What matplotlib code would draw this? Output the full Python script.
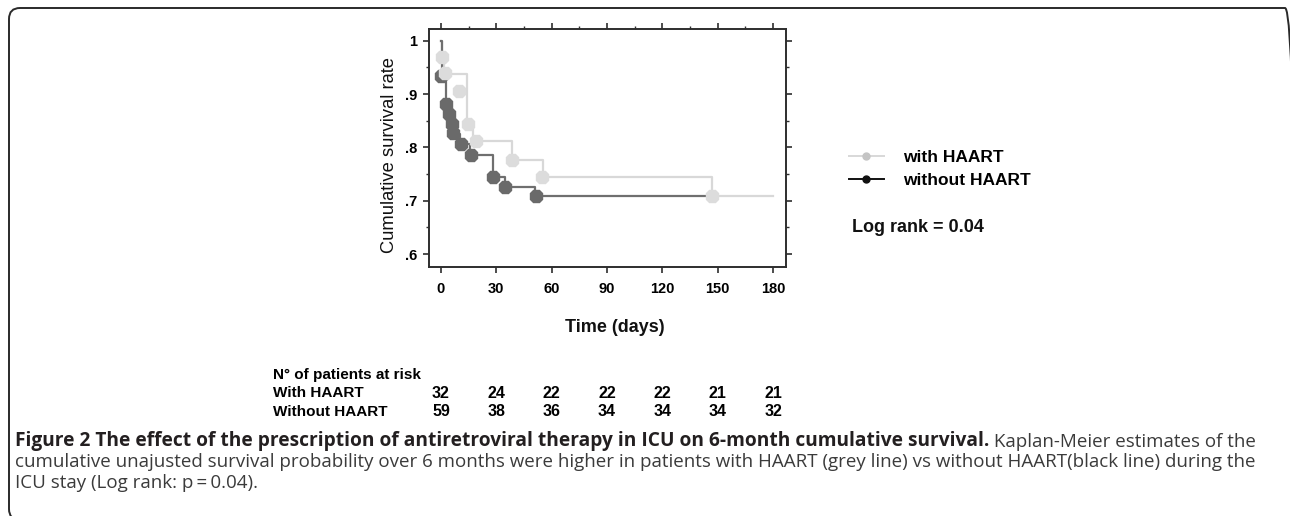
import matplotlib
matplotlib.use("Agg")
import matplotlib.pyplot as plt
from matplotlib import font_manager as fm
from matplotlib.lines import Line2D
from matplotlib.patches import FancyBboxPatch
from matplotlib.transforms import IdentityTransform, blended_transform_factory
from matplotlib.ticker import FixedLocator, MultipleLocator, FuncFormatter

# ---------------- data ----------------
# step curves (time in days, cumulative survival after each drop)
with_times = [0, 0.4, 1.5, 13.9, 17.5, 38.7, 55.5, 147, 180]
with_surv = [1.0, 0.969, 0.938, 0.844, 0.811, 0.776, 0.744, 0.709, 0.709]
without_times = [0, 0.8, 2.5, 4.5, 6.0, 6.7, 10.3, 15.5, 28.4, 34.7, 51.0, 147]
without_surv = [1.0, 0.934, 0.881, 0.862, 0.844, 0.825, 0.806, 0.786, 0.745, 0.726, 0.709, 0.709]
# plotted symbols
with_mark_t = [0.4, 2.2, 9.7, 14.8, 18.8, 38.3, 54.9, 147]
with_mark_s = [0.970, 0.939, 0.906, 0.843, 0.811, 0.776, 0.744, 0.709]
without_mark_t = [0.0, 2.7, 4.5, 5.8, 6.5, 10.6, 16.4, 28.3, 34.7, 51.5]
without_mark_s = [0.934, 0.881, 0.862, 0.844, 0.826, 0.806, 0.786, 0.745, 0.726, 0.709]

x_ticks = [0, 30, 60, 90, 120, 150, 180]
y_ticks = [0.6, 0.7, 0.8, 0.9, 1.0]
risk_times = [0, 30, 60, 90, 120, 150, 180]
risk_with = [32, 24, 22, 22, 22, 21, 21]
risk_without = [59, 38, 36, 34, 34, 34, 32]
series_labels = ["with HAART", "without HAART"]
risk_labels = ["With HAART", "Without HAART"]

CHART_FONT = "Liberation Sans"
plt.rcParams["font.family"] = ["Liberation Sans", "DejaVu Sans"]

W, H = 1290, 516
fig = plt.figure(figsize=(W / 100, H / 100), dpi=100)
fig.patch.set_facecolor("white")

# outer frame
frame = FancyBboxPatch((9, -4), 1287, 512, boxstyle="round,pad=0,rounding_size=11",
                       transform=IdentityTransform(), fill=False, edgecolor="#2a2a2a",
                       linewidth=1.4)
fig.patches.append(frame)

L, R, T, B = 429, 786, 29, 267
ax = fig.add_axes([L / W, 1 - B / H, (R - L) / W, (B - T) / H])
ax.set_xlim(-6.5, 187.0)
ax.set_ylim(0.5757, 1.0219)

LIGHT = "#d8d8d8"
LIGHT_M = "#dcdcdc"
DARK = "#6f6f6f"
DARK_M = "#6a6a6a"

ax.plot(with_times, with_surv, drawstyle="steps-post", color=LIGHT, lw=1.6, zorder=2)
ax.plot(without_times, without_surv, drawstyle="steps-post", color=DARK, lw=1.6, zorder=3)
ax.plot(without_mark_t, without_mark_s, ls="none", marker="8", ms=9.5, color=DARK_M,
        mec=DARK_M, zorder=4)
ax.plot(with_mark_t, with_mark_s, ls="none", marker="8", ms=9.5, color=LIGHT_M,
        mec=LIGHT_M, zorder=5)

# spines / ticks
for s in ax.spines.values():
    s.set_color("#2e2e2e")
    s.set_linewidth(1.4)
ax.xaxis.set_major_locator(FixedLocator(x_ticks))
ax.yaxis.set_major_locator(FixedLocator(y_ticks))
ax.yaxis.set_minor_locator(MultipleLocator(0.05))
ax.xaxis.set_minor_locator(MultipleLocator(15))
ax.yaxis.set_major_formatter(FuncFormatter(lambda v, p: "1" if abs(v - 1) < 1e-9 else ("%.1f" % v)[1:]))
ax.tick_params(axis="both", which="major", direction="out", length=4, width=1.2, color="#2e2e2e")
ax.tick_params(axis="both", which="minor", direction="out", length=2.5, width=1.0, color="#2e2e2e")
ax.tick_params(axis="x", which="major", top=True, bottom=True, pad=7, labelsize=10.5)
ax.tick_params(axis="x", which="minor", top=True, bottom=False)
ax.tick_params(axis="y", which="both", left=True, right=True)
ax.tick_params(axis="y", which="major", pad=4.5, labelsize=10.5)
for lab in ax.get_xticklabels() + ax.get_yticklabels():
    lab.set_fontweight("bold")
    lab.set_family(CHART_FONT)

ax.set_ylabel("Cumulative survival rate", fontsize=13.2, family="Liberation Sans", color="#111")
ax.yaxis.set_label_coords(-0.088, 0.47)
ax.set_xlabel("Time (days)", fontsize=13, fontweight="bold", family=CHART_FONT, color="#111")
ax.xaxis.label.set_va("center")
ax.xaxis.set_label_coords(0.521, -0.256)

# legend
handles = [Line2D([], [], color=LIGHT, lw=1.4, marker="o", ms=5, mfc="#c4c4c4", mec="#c4c4c4"),
           Line2D([], [], color="#111111", lw=1.4, marker="o", ms=5, mfc="#111111", mec="#111111")]
leg = ax.legend(handles, series_labels, loc="upper left", bbox_to_anchor=(849 / W, 1 - 150 / H),
                bbox_transform=fig.transFigure, frameon=False, handlelength=2.0,
                handletextpad=1.1, labelspacing=0.45, borderpad=0, borderaxespad=0,
                prop=fm.FontProperties(family=CHART_FONT, weight="bold", size=12.5))
fig.text(852 / W, 1 - 227 / H, "Log rank = 0.04", fontsize=13, fontweight="bold",
         family=CHART_FONT, va="center", ha="left", color="#111")

# number at risk table
tsize = 11
fig.text(273 / W, 1 - 375 / H, "N\u00b0 of patients at risk", fontsize=tsize, fontweight="bold",
         family=CHART_FONT, va="center", ha="left")
tr = blended_transform_factory(ax.transData, fig.transFigure)
for row, (lab, vals) in enumerate(zip(risk_labels, [risk_with, risk_without])):
    yy = 1 - (393 + row * 19) / H
    fig.text(273 / W, yy, lab, fontsize=tsize, fontweight="bold", family=CHART_FONT,
             va="center", ha="left")
    for t, v in zip(risk_times, vals):
        ax.text(t, yy, str(v), transform=tr, fontsize=11.5, fontweight="bold",
                family=CHART_FONT, va="center", ha="center", clip_on=False)

# caption
cap_font = ["Open Sans", "DejaVu Sans"]
cap_size = 13.5
t1 = fig.text(15 / W, 1 - 441 / H,
              "Figure 2 The effect of the prescription of antiretroviral therapy in ICU on 6-month cumulative survival.",
              fontsize=13.8, fontweight="bold", family=cap_font, color="#231f20",
              va="center", ha="left")
ax.annotate(" Kaplan-Meier estimates of the", xy=(1, 0), xycoords=t1, va="bottom", ha="left",
            fontsize=cap_size, family=cap_font, color="#3b3b3b", annotation_clip=False)
fig.text(15 / W, 1 - 462 / H,
         "cumulative unajusted survival probability over 6 months were higher in patients with HAART (grey line) vs without HAART(black line) during the",
         fontsize=cap_size, family=cap_font, color="#3b3b3b", va="center", ha="left")
fig.text(15 / W, 1 - 483 / H, "ICU stay (Log rank: p\u2009=\u20090.04).",
         fontsize=cap_size, family=cap_font, color="#3b3b3b", va="center", ha="left")

fig.savefig("out.png", dpi=100, facecolor="white")
